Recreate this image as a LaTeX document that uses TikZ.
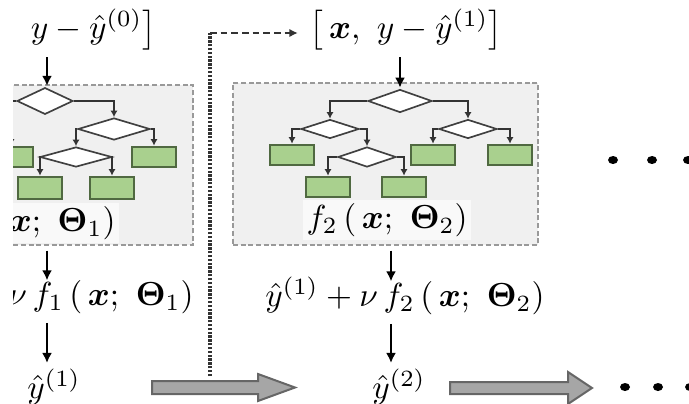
\documentclass[tikz,border=0pt]{standalone}
\usepackage{amsmath}
\usetikzlibrary{arrows.meta}
\usetikzlibrary{shapes.geometric}

\definecolor{leafgreen}{RGB}{169,208,142}
\definecolor{leafedge}{RGB}{80,105,65}
\definecolor{boxgray}{RGB}{240,240,240}

\begin{document}
\begin{tikzpicture}[x=0.3pt, y=-0.3pt,
    split/.style={diamond, draw=black!75, fill=white, line width=0.5pt, inner sep=0pt},
    leaf/.style={rectangle, draw=leafedge, fill=leafgreen, line width=0.6pt, inner sep=0pt,
        minimum width=13.2pt, minimum height=6.2pt},
    tedge/.style={draw=black!80, line width=0.5pt, -{Latex[length=2pt,width=2.2pt]}},
    flow/.style={line width=0.8pt, -{Latex[length=3pt,width=3pt]}, shorten <=1.5pt, shorten >=0.6pt},
    stagebox/.style={draw=black!40, dash pattern=on 1.5pt off 0.8pt, fill=boxgray, line width=0.4pt},
    boxlabel/.style={fill=white!60!boxgray, inner sep=1pt},
    bigarr/.style={draw=black!60, fill=black!35, line width=0.6pt}]

    \useasboundingbox (0,0) rectangle (689,403);
    \clip (13,0) rectangle (689,403);

    \coordinate (ax1) at (47,0);
    \coordinate (ax2) at (400,0);
    \coordinate (ax2b) at (391,0);

    % the two stages
    \node[stagebox, minimum width=99.9pt, minimum height=48pt] (box1) at (26.5,165) {};
    \node[stagebox, minimum width=91.5pt, minimum height=48.6pt] (box2) at (385.5,164) {};

    % tree of stage 1
    \node[split, minimum width=16.8pt, minimum height=8pt] (r1) at (45,101) {};
    \node[split, minimum width=21.6pt, minimum height=6.6pt] (d1) at (114,129) {};
    \node[split, minimum width=21.6pt, minimum height=6pt] (e1) at (76,157) {};
    \node[leaf] (l1a) at (11,157) {};
    \node[leaf] (l1b) at (154,157) {};
    \node[leaf, minimum height=6.8pt] (l1c) at (40,188) {};
    \node[leaf, minimum height=6.8pt] (l1d) at (112,188) {};
    \draw[tedge] (r1.west) -| (l1a.north);
    \draw[tedge] (r1.east) -| (d1.north);
    \draw[tedge] (d1.west) -| (e1.north);
    \draw[tedge] (d1.east) -| (l1b.north);
    \draw[tedge] (e1.west) -| (l1c.north);
    \draw[tedge] (e1.east) -| (l1d.north);
    \node[boxlabel] (lab1) at (35,223) {$f_1\,(\,\boldsymbol{x};\ \boldsymbol{\Theta}_1)$};

    % tree of stage 2
    \node[split, minimum width=19.2pt, minimum height=6.9pt] (r2) at (400,101) {};
    \node[split, minimum width=17.4pt, minimum height=5.7pt] (a2) at (330,129) {};
    \node[split, minimum width=17.4pt, minimum height=5.7pt] (b2) at (468,129) {};
    \node[split, minimum width=17.4pt, minimum height=6pt] (c2) at (367,157) {};
    \node[leaf] (l2a) at (292,155) {};
    \node[leaf] (l2b) at (328,187) {};
    \node[leaf] (l2c) at (404,187) {};
    \node[leaf] (l2d) at (433,155) {};
    \node[leaf] (l2e) at (510,155) {};
    \draw[tedge] (r2.west) -| (a2.north);
    \draw[tedge] (r2.east) -| (b2.north);
    \draw[tedge] (a2.west) -| (l2a.north);
    \draw[tedge] (a2.east) -| (c2.north);
    \draw[tedge] (c2.west) -| (l2b.north);
    \draw[tedge] (c2.east) -| (l2c.north);
    \draw[tedge] (b2.west) -| (l2d.north);
    \draw[tedge] (b2.east) -| (l2e.north);
    \node[boxlabel] (lab2) at (387,220) {$f_2\,(\,\boldsymbol{x};\ \boldsymbol{\Theta}_2)$};

    % inputs, sums and outputs
    \node (in1) at (60,30) {$\big[\,\boldsymbol{x},\ y-\hat{y}^{(0)}\big]$};
    \node (in2) at (406,30) {$\big[\,\boldsymbol{x},\ y-\hat{y}^{(1)}\big]$};
    \node[inner sep=1pt] (sum1) at (54,295) {$\hat{y}^{(0)}+\nu\,f_1\,(\,\boldsymbol{x};\ \boldsymbol{\Theta}_1)$};
    \node[inner sep=1pt] (sum2) at (405,296) {$\hat{y}^{(1)}+\nu\,f_2\,(\,\boldsymbol{x};\ \boldsymbol{\Theta}_2)$};
    \node[inner sep=1pt] (out1) at (54,387) {$\hat{y}^{(1)}$};
    \node[inner sep=1pt] (out2) at (399,387) {$\hat{y}^{(2)}$};

    \draw[flow, shorten <=-1.5pt, shorten >=0.3pt] (in1.south -| ax1) -- (r1.north -| ax1);
    \draw[flow, shorten >=-2.5pt] (box1.south -| ax1) -- (sum1.north -| ax1);
    \draw[flow] (sum1.south -| ax1) -- (out1.north -| ax1);
    \draw[flow, shorten <=-1.5pt, shorten >=0.3pt] (in2.south -| ax2) -- (r2.north -| ax2);
    \draw[flow, shorten >=-2.5pt] (box2.south -| ax2b) -- (sum2.north -| ax2b);
    \draw[flow] (sum2.south -| ax2b) -- (out2.north -| ax2b);

    % feedback of the residual
    \coordinate (fbstart) at (210,376);
    \coordinate (fbturn) at (210,33);
    \draw[black!80, line width=1pt, dash pattern=on 0.7pt off 0.45pt] (fbstart) -- (fbturn);
    \draw[black!80, line width=0.6pt, dash pattern=on 2pt off 1.2pt, -{Latex[length=2.5pt,width=2.5pt]}]
        (fbturn) -- (in2.west |- fbturn);

    % big arrows
    \filldraw[bigarr] (152,381) -- (258,381) -- (258,374) -- (295,387.5) -- (258,401) -- (258,394) -- (152,394) -- cycle;
    \filldraw[bigarr] (450,382) -- (568,382) -- (568,372) -- (592,388) -- (568,404) -- (568,394) -- (450,394) -- cycle;

    % more stages
    \foreach \x in {613,652,688}
        \fill (\x,160) ellipse (5 and 4);
    \foreach \x in {625,658,690}
        \fill (\x,387) ellipse (5 and 4);

\end{tikzpicture}
\end{document}
